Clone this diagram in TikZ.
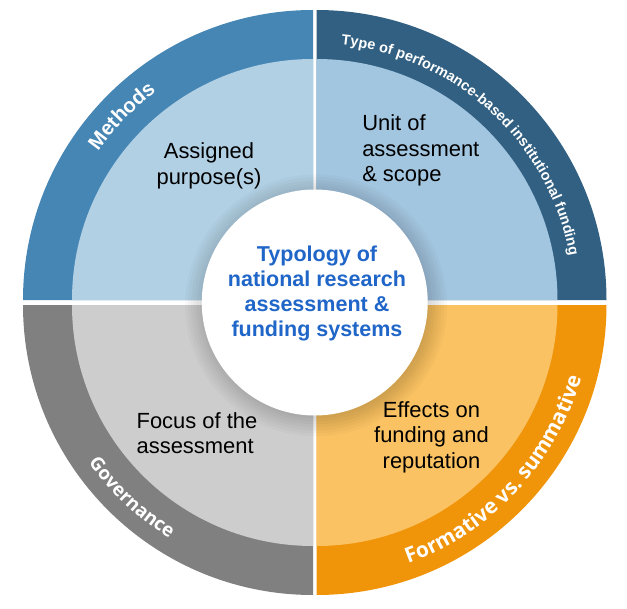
\documentclass[tikz,border=0pt]{standalone}
\usepackage{fontspec}
\setmainfont{Liberation Sans}
\newfontfamily\ringfont{Open Sans}
\usetikzlibrary{decorations.text}

\begin{document}
\begin{tikzpicture}[x=0.025cm, y=0.025cm,
    ringtext/.style={decorate, decoration={text along path, text align=center, text={#1}}},
    quadtext/.style={inner sep=0pt, font=\fontsize{15.6pt}{18.1pt}\selectfont, text={rgb,255:red,0;green,0;blue,0}}
]
\useasboundingbox (0,0) rectangle (627,608);

    % outer rings
    \fill[fill={rgb,255:red,70;green,134;blue,180}] (313,308) -- ++(180:290) arc[start angle=180, end angle=90, radius=290] -- cycle;
    \fill[fill={rgb,255:red,50;green,96;blue,130}] (316.5,308) -- ++(90:290) arc[start angle=90, end angle=0, radius=290] -- cycle;
    \fill[fill={rgb,255:red,128;green,128;blue,128}] (313,303) -- ++(270:290) arc[start angle=270, end angle=180, radius=290] -- cycle;
    \fill[fill={rgb,255:red,240;green,148;blue,10}] (316.5,303) -- ++(0:290) arc[start angle=0, end angle=-90, radius=290] -- cycle;

    % inner sectors
    \fill[fill={rgb,255:red,178;green,208;blue,228}] (313,308) -- ++(180:241) arc[start angle=180, end angle=90, radius=241] -- cycle;
    \fill[fill={rgb,255:red,163;green,198;blue,224}] (316.5,308) -- ++(90:241) arc[start angle=90, end angle=0, radius=241] -- cycle;
    \fill[fill={rgb,255:red,205;green,205;blue,205}] (313,303) -- ++(270:241) arc[start angle=270, end angle=180, radius=241] -- cycle;
    \fill[fill={rgb,255:red,250;green,194;blue,98}] (316.5,303) -- ++(0:241) arc[start angle=0, end angle=-90, radius=241] -- cycle;

    \coordinate (ctr) at (314.75,305.5);

    % shadow and hub
    \foreach \rr in {131,128,...,113}
        \fill[black, opacity=0.025] ([xshift=1pt, yshift=-2pt]ctr) circle[radius=\rr];
    \fill[white] (ctr) circle[radius=113];

    \node[align=center, inner sep=0pt, font=\bfseries\fontsize{15.3pt}{17.8pt}\selectfont, text={rgb,255:red,32;green,102;blue,200}] (typology) at (317,314.5)
        {Typology of\\national research\\assessment \&\\funding systems};

    % quadrant labels
    \node[quadtext, align=center] (purpose) at (209,442) {Assigned\\purpose(s)};
    \node[quadtext, align=left, anchor=west] (unit) at (362,457.5) {Unit of\\assessment\\\& scope};
    \node[quadtext, align=left] (focus) at (197,175) {Focus of the\\assessment};
    \node[quadtext, align=center] (effects) at (431.5,171) {Effects on\\funding and\\reputation};

    % ring labels
    \path[ringtext={|\bfseries\fontsize{14.5pt}{14.5pt}\selectfont\color{white}|Methods}]
        (ctr) ++(180:264) arc[start angle=180, end angle=92, radius=264];
    \path[ringtext={|\bfseries\fontsize{10.3pt}{10.3pt}\selectfont\color{white}|Type of performance-based institutional funding}]
        (ctr) ++(91.3:259) arc[start angle=91.3, end angle=3.3, radius=259];
    \path[ringtext={|\ringfont\bfseries\fontsize{13.3pt}{13.3pt}\selectfont\color{white}|Governance}]
        (ctr) ++(182.8:277) arc[start angle=182.8, end angle=270.8, radius=277];
    \path[ringtext={|\ringfont\bfseries\fontsize{14.9pt}{14.9pt}\selectfont\color{white}|Formative vs. summative}]
        (ctr) ++(273:277) arc[start angle=273, end angle=361, radius=277];
\end{tikzpicture}
\end{document}
